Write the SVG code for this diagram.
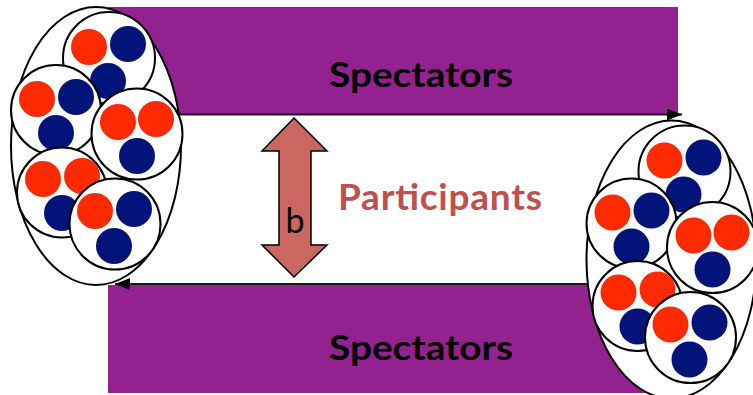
<svg xmlns="http://www.w3.org/2000/svg" xmlns:xlink="http://www.w3.org/1999/xlink" width="753" height="395" viewBox="0 0 753 395">
  <style>
    .band { fill: #93218f; }
    .rail { stroke: #1a1a1a; stroke-width: 2; fill: none; }
    .label { font-family: Lato, "Open Sans", "Liberation Sans", sans-serif; font-weight: bold; }
    .shell { fill: #ffffff; stroke: #000000; stroke-width: 2; }
    .nucleon { fill: #ffffff; stroke: #000000; stroke-width: 2; }
    .p { fill: #ff2a00; }
    .n { fill: #02137a; }
  </style>
  <defs>
    <marker id="head" markerUnits="userSpaceOnUse" markerWidth="16" markerHeight="12" refX="15" refY="6" orient="auto">
      <path d="M0,0 L15,6 L0,12 Z" fill="#000000"/>
    </marker>
    <!-- one nucleus: white shell holding five three-quark nucleons -->
    <g id="nucleus">
      <ellipse class="shell" cx="96" cy="146" rx="85" ry="139"/>
      <g>
        <circle class="nucleon" cx="109" cy="58" r="46"/>
        <circle class="p" cx="89" cy="47" r="18"/>
        <circle class="n" cx="128" cy="44" r="18"/>
        <circle class="n" cx="108" cy="81" r="18"/>
      </g>
      <g>
        <circle class="nucleon" cx="56" cy="110" r="45"/>
        <circle class="p" cx="37" cy="99" r="18"/>
        <circle class="n" cx="76" cy="97" r="18"/>
        <circle class="n" cx="56" cy="133" r="18"/>
      </g>
      <g>
        <circle class="nucleon" cx="137" cy="134" r="45.5"/>
        <circle class="p" cx="118" cy="122" r="18"/>
        <circle class="p" cx="156" cy="119" r="18"/>
        <circle class="n" cx="137" cy="156" r="18"/>
      </g>
      <g>
        <circle class="nucleon" cx="62" cy="192.5" r="45"/>
        <circle class="p" cx="43" cy="179" r="18"/>
        <circle class="p" cx="82" cy="176" r="18"/>
        <circle class="n" cx="62" cy="213" r="18"/>
      </g>
      <g>
        <circle class="nucleon" cx="115" cy="224" r="45.5"/>
        <circle class="p" cx="95" cy="211" r="18"/>
        <circle class="n" cx="134" cy="209" r="18"/>
        <circle class="n" cx="114" cy="246" r="18"/>
      </g>
    </g>
  </defs>

  <!-- spectator bands -->
  <g id="spectators-top">
    <rect class="band" x="108" y="7" width="570" height="107"/>
    <text class="label" x="421" y="87" font-size="35" text-anchor="middle" textLength="184" lengthAdjust="spacingAndGlyphs" fill="#000000">Spectators</text>
  </g>
  <g id="spectators-bottom">
    <rect class="band" x="108" y="285" width="570" height="108"/>
    <text class="label" x="421" y="360" font-size="35" text-anchor="middle" textLength="184" lengthAdjust="spacingAndGlyphs" fill="#000000">Spectators</text>
  </g>

  <!-- beam lines -->
  <g id="connectors">
    <line class="rail" x1="150" y1="114.5" x2="682" y2="114.5" marker-end="url(#head)"/>
    <line class="rail" x1="620" y1="284" x2="115" y2="284" marker-end="url(#head)"/>
  </g>

  <!-- impact parameter -->
  <g id="impact-parameter">
    <path d="M294,118 L327,151 L311,151 L311,245 L327,245 L294,277 L262,245 L279,245 L279,151 L262,151 Z" fill="#cc6660" stroke="#000000" stroke-width="1.5" stroke-linejoin="miter"/>
    <text x="295" y="233" font-family="Lato, 'Liberation Sans', sans-serif" font-size="34" text-anchor="middle" fill="#000000">b</text>
  </g>

  <g id="participants">
    <text class="label" x="440" y="210" font-size="37" text-anchor="middle" textLength="204" fill="#c0504d">Participants</text>
  </g>

  <!-- colliding nuclei -->
  <use id="nucleus-left" xlink:href="#nucleus"/>
  <use id="nucleus-right" xlink:href="#nucleus" transform="translate(575.5,113.5)"/>
</svg>
